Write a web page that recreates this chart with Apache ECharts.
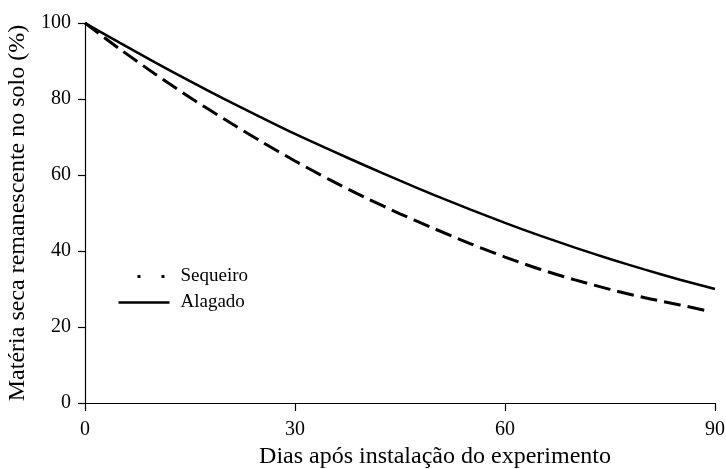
<!DOCTYPE html>
<html>
<head>
<meta charset="utf-8">
<script src="https://cdn.jsdelivr.net/npm/echarts@6/dist/echarts.min.js"></script>
<style>
  html, body { margin: 0; padding: 0; background: #fff; }
  #chart { width: 726px; height: 469px; }
</style>
</head>
<body>
<div id="chart"></div>
<script>
// dias apos instalacao
var dias = [0, 5, 10, 15, 20, 25, 30, 35, 40, 45, 50, 55, 60, 65, 70, 75, 80, 85, 90];
var diasSequeiro = [0, 5, 10, 15, 20, 25, 30, 35, 40, 45, 50, 55, 60, 65, 70, 75, 80, 85, 89];
// materia seca remanescente (%)
var sequeiro = [100, 93.1, 86.6, 80.4, 74.6, 69.0, 63.7, 58.7, 54.1, 49.8, 45.8, 41.95, 38.4, 35.2, 32.4, 29.9, 27.7, 25.8, 24.2];
var alagado = [100, 94.75, 89.65, 84.7, 79.9, 75.3, 70.8, 66.6, 62.5, 58.5, 54.65, 50.95, 47.4, 44.05, 40.9, 37.9, 35.1, 32.45, 30];
var xTicks = [0, 30, 60, 90];
var yTicks = [0, 20, 40, 60, 80, 100];

function pares(xs, ys) {
    return xs.map(function (x, i) { return [x, ys[i]]; });
}

var fonte = "'Liberation Serif', 'DejaVu Serif', serif";
var chart = echarts.init(document.getElementById('chart'));

var option = {
    animation: false,
    backgroundColor: '#fff',
    textStyle: { fontFamily: fonte, color: '#000' },
    grid: { left: 85, right: 11, top: 23, bottom: 66, outerBoundsMode: 'none', containLabel: false },
    legend: {
        orient: 'vertical',
        left: 112,
        top: 262,
        itemWidth: 51,
        itemHeight: 14,
        itemGap: 7,
        itemStyle: { opacity: 0 },
        formatter: '{t|{name}}',
        textStyle: {
            color: '#000',
            rich: { t: { fontFamily: fonte, fontSize: 19, color: '#000', padding: [0, 0, 0, 6] } }
        },
        data: [
            { name: 'Sequeiro', lineStyle: { type: [3, 21], dashOffset: 5, width: 3 } },
            { name: 'Alagado', lineStyle: { type: 'solid', width: 2.5 } }
        ]
    },
    xAxis: {
        type: 'value',
        min: 0, max: 90, interval: 30,
        name: 'Dias após instalação do experimento',
        nameLocation: 'middle',
        nameGap: 40,
        nameTextStyle: { fontFamily: fonte, fontSize: 24, color: '#000', padding: [0, 0, 0, 70] },
        axisLine: { lineStyle: { color: '#000', width: 1.2 } },
        axisTick: { show: true, length: 8, lineStyle: { color: '#000', width: 1.2 } },
        axisLabel: { fontFamily: fonte, fontSize: 20, color: '#000', margin: 17,
            formatter: function (v) { return xTicks.indexOf(v) >= 0 ? v : ''; } },
        splitLine: { show: false }
    },
    yAxis: {
        type: 'value',
        min: 0, max: 100, interval: 20,
        name: 'Matéria seca remanescente no solo (%)',
        nameLocation: 'middle',
        nameGap: 51,
        nameTextStyle: { fontFamily: fonte, fontSize: 24, color: '#000' },
        axisLine: { show: true, lineStyle: { color: '#000', width: 1.2 } },
        axisTick: { show: true, length: 7, lineStyle: { color: '#000', width: 1.2 } },
        axisLabel: { fontFamily: fonte, fontSize: 20, color: '#000', margin: 14,
            formatter: function (v) { return yTicks.indexOf(v) >= 0 ? v : ''; } },
        splitLine: { show: false }
    },
    series: [
        {
            name: 'Sequeiro',
            type: 'line',
            smooth: 0.3,
            symbol: 'none',
            data: pares(diasSequeiro, sequeiro),
            lineStyle: { color: '#000', width: 3, type: [17, 7] },
            itemStyle: { color: '#000' }
        },
        {
            name: 'Alagado',
            type: 'line',
            smooth: 0.3,
            symbol: 'none',
            data: pares(dias, alagado),
            lineStyle: { color: '#000', width: 2.5, type: 'solid' },
            itemStyle: { color: '#000' }
        }
    ]
};

chart.setOption(option);
</script>
</body>
</html>
